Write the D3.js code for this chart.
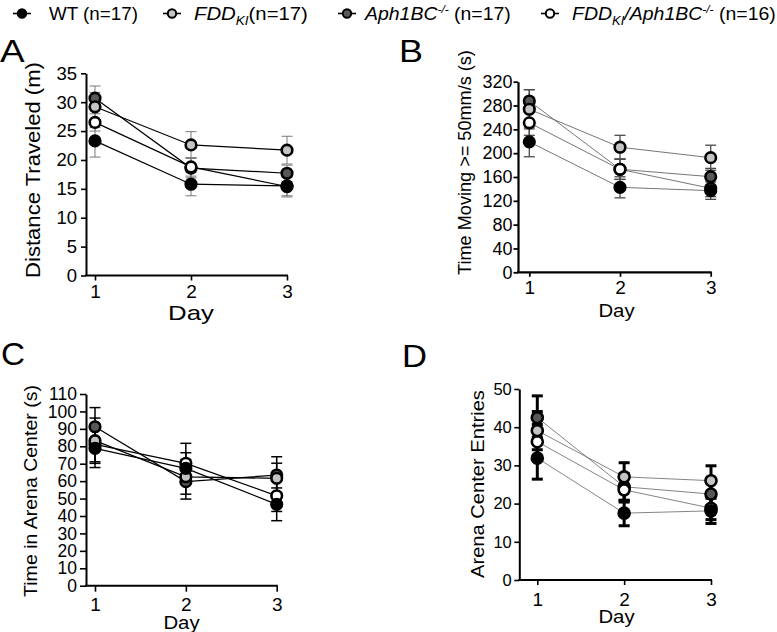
<!DOCTYPE html>
<html><head><meta charset="utf-8">
<script src="https://cdn.jsdelivr.net/npm/d3@7"></script>
<style>
body{margin:0;background:#fff;}
text{font-family:"Liberation Sans",Arial,sans-serif;fill:#000;}
</style></head>
<body><svg id="c" width="777" height="632"></svg>
<script>
// ---------- DATA ----------
const days = [1, 2, 3];
const seriesKeys = ["Aph", "FDDAph", "FDD", "WT"]; // draw order
// Panel A: Distance Traveled (m)
const aWT = [23.3, 15.8, 15.5],      aWTsem = [2.8, 2.0, 1.9];
const aFDD = [29.2, 22.6, 21.7],     aFDDsem = [3.6, 2.3, 2.4];
const aAph = [30.7, 18.6, 17.7],     aAphsem = [1.0, 1.7, 1.4];
const aFDDAph = [26.5, 18.8, 15.4],  aFDDAphsem = [1.5, 1.6, 1.6];
const aTicks = [0, 5, 10, 15, 20, 25, 30, 35];
// Panel B: Time Moving >= 50mm/s (s)
const bWT = [219, 142.7, 137],       bWTsem = [25, 17.7, 14.5];
const bFDD = [273.7, 210, 192.4],    bFDDsem = [33, 20, 21];
const bAph = [287.6, 173, 160.5],    bAphsem = [19, 17, 14];
const bFDDAph = [251, 172.9, 141],   bFDDAphsem = [21, 17, 14];
const bTicks = [0, 40, 80, 120, 160, 200, 240, 280, 320];
// Panel C: Time in Arena Center (s)
const cWT = [78.8, 67.3, 46.7],      cWTsem = [11, 9, 9.4];
const cFDD = [83.2, 62.5, 61.6],     cFDDsem = [13, 10, 8.7];
const cAph = [91.2, 59.7, 63.5],     cAphsem = [11, 10, 10.5];
const cFDDAph = [81.1, 70.2, 51.6],  cFDDAphsem = [10, 11.5, 9];
const cTicks = [0, 10, 20, 30, 40, 50, 60, 70, 80, 90, 100, 110];
// Panel D: Arena Center Entries
const dWT = [31.9, 17.5, 18.1],      dWTsem = [5.5, 3.3, 3.3];
const dFDD = [39.1, 27.0, 26.0],     dFDDsem = [5.0, 3.7, 3.9];
const dAph = [42.5, 24.4, 22.5],     dAphsem = [5.7, 3.5, 3.0];
const dFDDAph = [36.2, 23.6, 18.8],  dFDDAphsem = [4.5, 3.2, 3.0];
const dTicks = [0, 10, 20, 30, 40, 50];

// ---------- STYLE ----------
const fills = {WT: "#000000", FDD: "#c4c4c4", Aph: "#585858", FDDAph: "#ffffff"};
const svg = d3.select("#c");

// stretch a text horizontally (along its direction) to a target length
function stretch(t, x, y, target, rot) {
  const w = t.node().getBBox().width;
  const s = target / w;
  t.attr("x", 0).attr("y", 0)
   .attr("transform", `translate(${x},${y})${rot ? " rotate(-90)" : ""} scale(${s},1)`);
}

function panel(cfg, data) {
  const x = d3.scaleLinear().domain([1, 3]).range([cfg.x1, cfg.x3]);
  const y = d3.scaleLinear().domain([0, cfg.ymax]).range([cfg.y0, cfg.yTop]);
  const g = svg.append("g");

  // y axis
  const ya = g.append("g").attr("transform", `translate(${cfg.ax},0)`)
    .call(d3.axisLeft(y).tickValues(cfg.ticks).tickSize(cfg.tick).tickSizeOuter(0).tickPadding(cfg.pad));
  ya.select(".domain").attr("stroke", "#000").attr("stroke-width", cfg.axw);
  ya.selectAll(".tick line").attr("stroke", "#000").attr("stroke-width", cfg.axw * 0.8);
  ya.selectAll(".tick text").attr("font-size", cfg.yfs).attr("font-family", "Liberation Sans, Arial, sans-serif").attr("fill", "#000");

  // x axis
  const xa = g.append("g").attr("transform", `translate(0,${cfg.y0})`)
    .call(d3.axisBottom(x).tickValues(days).tickFormat(d3.format("d")).tickSize(cfg.tick).tickSizeOuter(0).tickPadding(cfg.xpad));
  xa.select(".domain").remove();
  xa.append("line").attr("x1", cfg.ax - cfg.axw / 2).attr("x2", cfg.x3 + 1).attr("stroke", "#000").attr("stroke-width", cfg.axw);
  xa.selectAll(".tick line").attr("stroke", "#000").attr("stroke-width", cfg.axw * 0.8);
  xa.selectAll(".tick text").attr("font-size", cfg.xfs).attr("font-family", "Liberation Sans, Arial, sans-serif").attr("fill", "#000");

  // titles
  const yt = g.append("text").attr("text-anchor", "middle").attr("font-size", cfg.ytfs).text(cfg.ytitle);
  stretch(yt, cfg.ytx, cfg.yty, cfg.ytlen, true);
  const dt = g.append("text").attr("text-anchor", "middle").attr("font-size", cfg.dayfs).text("Day");
  stretch(dt, cfg.dayx, cfg.dayy, cfg.daylen, false);
  const lt = g.append("text").attr("font-size", 31).text(cfg.letter);
  stretch(lt, cfg.lx, cfg.ly, cfg.llen, false);

  const errs = g.append("g"), lines = g.append("g"), marks = g.append("g");
  const line = d3.line().x((d, i) => x(days[i])).y(d => y(d));
  const cw = cfg.capw / 2;
  seriesKeys.forEach(k => {
    const m = data[k][0], s = data[k][1];
    days.forEach((d, i) => {
      const eg = errs.append("g").attr("stroke", cfg.errc).attr("stroke-width", cfg.errw).attr("fill", "none");
      eg.append("line").attr("x1", x(d)).attr("x2", x(d)).attr("y1", y(m[i] - s[i])).attr("y2", y(m[i] + s[i]));
      eg.append("line").attr("x1", x(d) - cw).attr("x2", x(d) + cw).attr("y1", y(m[i] - s[i])).attr("y2", y(m[i] - s[i]));
      eg.append("line").attr("x1", x(d) - cw).attr("x2", x(d) + cw).attr("y1", y(m[i] + s[i])).attr("y2", y(m[i] + s[i]));
    });
    lines.append("path").attr("d", line(m)).attr("fill", "none").attr("stroke", cfg.linec).attr("stroke-width", cfg.linew);
  });
  seriesKeys.forEach(k => {
    const m = data[k][0];
    marks.selectAll(null).data(m).enter().append("circle")
      .attr("cx", (d, i) => x(days[i])).attr("cy", d => y(d)).attr("r", cfg.r)
      .attr("fill", fills[k]).attr("stroke", "#000").attr("stroke-width", cfg.mw);
  });
}

panel({letter: "A", lx: 0, ly: 62, llen: 25, ax: 86, x1: 95, x3: 287, y0: 275.5, yTop: 73.3, ymax: 35, ticks: aTicks,
  tick: 5, pad: 4, xpad: 4.5, axw: 2, yfs: 18.5, xfs: 19, ytfs: 21, ytx: 40, yty: 170, ytlen: 216,
  ytitle: "Distance Traveled (m)", dayx: 191, dayy: 320, dayfs: 20, daylen: 46,
  errc: "#7a7a7a", errw: 1, capw: 11, linec: "#000", linew: 1.2, r: 5.3, mw: 2.6},
  {WT: [aWT, aWTsem], FDD: [aFDD, aFDDsem], Aph: [aAph, aAphsem], FDDAph: [aFDDAph, aFDDAphsem]});

panel({letter: "B", lx: 399, ly: 62, llen: 24, ax: 518, x1: 529.3, x3: 710.7, y0: 272.3, yTop: 81.7, ymax: 320, ticks: bTicks,
  tick: 4.5, pad: 1, xpad: 4, axw: 2.2, yfs: 18, xfs: 19, ytfs: 18, ytx: 471, yty: 162.5, ytlen: 225,
  ytitle: "Time Moving >= 50mm/s (s)", dayx: 616.5, dayy: 316.5, dayfs: 18.5, daylen: 37,
  errc: "#4a4a4a", errw: 1.3, capw: 11, linec: "#666", linew: 0.9, r: 5.3, mw: 2.6},
  {WT: [bWT, bWTsem], FDD: [bFDD, bFDDsem], Aph: [bAph, bAphsem], FDDAph: [bFDDAph, bFDDAphsem]});

panel({letter: "C", lx: 1, ly: 365, llen: 24, ax: 86, x1: 95, x3: 276.7, y0: 585.7, yTop: 394, ymax: 110, ticks: cTicks,
  tick: 6, pad: 3, xpad: 6.3, axw: 2, yfs: 17.5, xfs: 19, ytfs: 19, ytx: 37, yty: 491, ytlen: 212,
  ytitle: "Time in Arena Center (s)", dayx: 181.5, dayy: 628.5, dayfs: 18.5, daylen: 37,
  errc: "#000", errw: 1.5, capw: 11, linec: "#000", linew: 1.3, r: 5.3, mw: 2.6},
  {WT: [cWT, cWTsem], FDD: [cFDD, cFDDsem], Aph: [cAph, cAphsem], FDDAph: [cFDDAph, cFDDAphsem]});

panel({letter: "D", lx: 402, ly: 367, llen: 25, ax: 519.3, x1: 537.3, x3: 711, y0: 580, yTop: 389, ymax: 50, ticks: dTicks,
  tick: 5, pad: 2.5, xpad: 7.5, axw: 2, yfs: 16.5, xfs: 19, ytfs: 19, ytx: 484, yty: 484, ytlen: 188,
  ytitle: "Arena Center Entries", dayx: 616.5, dayy: 622.5, dayfs: 18.5, daylen: 37,
  errc: "#000", errw: 3, capw: 11, linec: "#666", linew: 0.8, r: 5.5, mw: 2.6},
  {WT: [dWT, dWTsem], FDD: [dFDD, dFDDsem], Aph: [dAph, dAphsem], FDDAph: [dFDDAph, dFDDAphsem]});

// ---------- LEGEND ----------
const legendItems = [
  {k: "WT", mx: 22, tx: 49, len: 89},
  {k: "FDD", mx: 172, tx: 194, len: 114},
  {k: "Aph", mx: 347, tx: 365, len: 147},
  {k: "FDDAph", mx: 550, tx: 572, len: 204}
];
const leg = svg.append("g");
const ly = 13.5;
legendItems.forEach(it => {
  leg.append("line").attr("x1", it.mx - 9).attr("x2", it.mx + 9).attr("y1", ly).attr("y2", ly).attr("stroke", "#000").attr("stroke-width", 1.6);
  leg.append("circle").attr("cx", it.mx).attr("cy", ly).attr("r", 4.2).attr("fill", fills[it.k]).attr("stroke", "#000").attr("stroke-width", 2);
  const t = leg.append("text").attr("font-size", 18);
  if (it.k === "WT") {
    t.text("WT (n=17)");
  } else if (it.k === "FDD") {
    t.append("tspan").attr("font-style", "italic").text("FDD");
    t.append("tspan").attr("font-style", "italic").attr("font-size", 12).attr("dy", 5).text("KI");
    t.append("tspan").attr("dy", -5).text("(n=17)");
  } else if (it.k === "Aph") {
    t.append("tspan").attr("font-style", "italic").text("Aph1BC");
    t.append("tspan").attr("font-style", "italic").attr("font-size", 11).attr("dy", -7).text("-/-");
    t.append("tspan").attr("dy", 7).text(" (n=17)");
  } else {
    t.append("tspan").attr("font-style", "italic").text("FDD");
    t.append("tspan").attr("font-style", "italic").attr("font-size", 12).attr("dy", 5).text("KI");
    t.append("tspan").attr("font-style", "italic").attr("dy", -5).text("/Aph1BC");
    t.append("tspan").attr("font-style", "italic").attr("font-size", 11).attr("dy", -7).text("-/-");
    t.append("tspan").attr("dy", 7).text(" (n=16)");
  }
  stretch(t, it.tx, 20, it.len, false);
});
</script></body></html>
